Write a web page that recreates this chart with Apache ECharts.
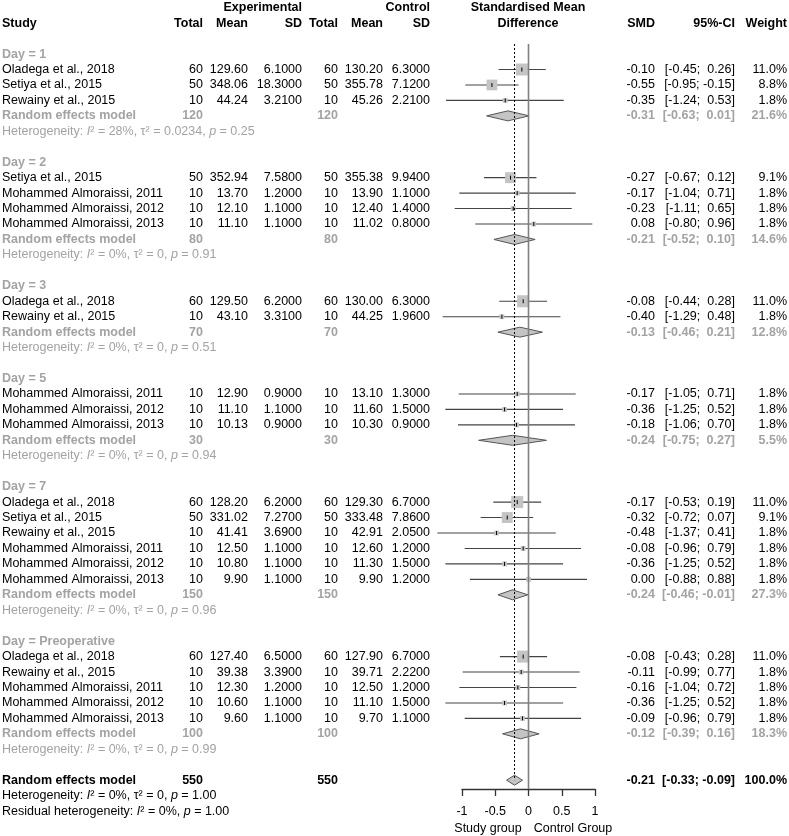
<!DOCTYPE html>
<html>
<head>
<meta charset="utf-8">
<script src="https://cdn.jsdelivr.net/npm/echarts@6/dist/echarts.min.js"></script>
<style>
  html, body { margin: 0; background: #fff; }
  #chart { width: 789px; height: 836px; }
</style>
</head>
<body>
<div id="chart"></div>
<script>
  // subgroups
  const groupNames = ['Day = 1', 'Day = 2', 'Day = 3', 'Day = 5', 'Day = 7', 'Day = Preoperative'];
  const groupExpN = [120, 80, 70, 30, 150, 100];
  const groupCtrlN = [120, 80, 70, 30, 150, 100];
  const groupSmd = [-0.31, -0.21, -0.13, -0.24, -0.24, -0.12];
  const groupLo = [-0.63, -0.52, -0.46, -0.75, -0.46, -0.39];
  const groupHi = [0.01, 0.10, 0.21, 0.27, -0.01, 0.16];
  const groupWeight = [21.6, 14.6, 12.8, 5.5, 27.3, 18.3];
  const groupI2 = ['28%', '0%', '0%', '0%', '0%', '0%'];
  const groupTau2 = ['0.0234', '0', '0', '0', '0', '0'];
  const groupP = ['0.25', '0.91', '0.51', '0.94', '0.96', '0.99'];

  // studies
  const studyGroup = [0, 0, 0, 1, 1, 1, 1, 2, 2, 3, 3, 3, 4, 4, 4, 4, 4, 4, 5, 5, 5, 5, 5];
  const studyNames = [
    'Oladega et al., 2018', 'Setiya et al., 2015', 'Rewainy et al., 2015',
    'Setiya et al., 2015', 'Mohammed Almoraissi, 2011', 'Mohammed Almoraissi, 2012', 'Mohammed Almoraissi, 2013',
    'Oladega et al., 2018', 'Rewainy et al., 2015',
    'Mohammed Almoraissi, 2011', 'Mohammed Almoraissi, 2012', 'Mohammed Almoraissi, 2013',
    'Oladega et al., 2018', 'Setiya et al., 2015', 'Rewainy et al., 2015',
    'Mohammed Almoraissi, 2011', 'Mohammed Almoraissi, 2012', 'Mohammed Almoraissi, 2013',
    'Oladega et al., 2018', 'Rewainy et al., 2015',
    'Mohammed Almoraissi, 2011', 'Mohammed Almoraissi, 2012', 'Mohammed Almoraissi, 2013'
  ];
  const expN = [60, 50, 10, 50, 10, 10, 10, 60, 10, 10, 10, 10, 60, 50, 10, 10, 10, 10, 60, 10, 10, 10, 10];
  const expMean = [129.60, 348.06, 44.24, 352.94, 13.70, 12.10, 11.10, 129.50, 43.10, 12.90, 11.10, 10.13,
    128.20, 331.02, 41.41, 12.50, 10.80, 9.90, 127.40, 39.38, 12.30, 10.60, 9.60];
  const expSD = [6.1, 18.3, 3.21, 7.58, 1.2, 1.1, 1.1, 6.2, 3.31, 0.9, 1.1, 0.9,
    6.2, 7.27, 3.69, 1.1, 1.1, 1.1, 6.5, 3.39, 1.2, 1.1, 1.1];
  const ctrlN = [60, 50, 10, 50, 10, 10, 10, 60, 10, 10, 10, 10, 60, 50, 10, 10, 10, 10, 60, 10, 10, 10, 10];
  const ctrlMean = [130.20, 355.78, 45.26, 355.38, 13.90, 12.40, 11.02, 130.00, 44.25, 13.10, 11.60, 10.30,
    129.30, 333.48, 42.91, 12.60, 11.30, 9.90, 127.90, 39.71, 12.50, 11.10, 9.70];
  const ctrlSD = [6.3, 7.12, 2.21, 9.94, 1.1, 1.4, 0.8, 6.3, 1.96, 1.3, 1.5, 0.9,
    6.7, 7.86, 2.05, 1.2, 1.5, 1.2, 6.7, 2.22, 1.2, 1.5, 1.1];
  const smd = [-0.10, -0.55, -0.35, -0.27, -0.17, -0.23, 0.08, -0.08, -0.40, -0.17, -0.36, -0.18,
    -0.17, -0.32, -0.48, -0.08, -0.36, 0.00, -0.08, -0.11, -0.16, -0.36, -0.09];
  const ciLo = [-0.45, -0.95, -1.24, -0.67, -1.04, -1.11, -0.80, -0.44, -1.29, -1.05, -1.25, -1.06,
    -0.53, -0.72, -1.37, -0.96, -1.25, -0.88, -0.43, -0.99, -1.04, -1.25, -0.96];
  const ciHi = [0.26, -0.15, 0.53, 0.12, 0.71, 0.65, 0.96, 0.28, 0.48, 0.71, 0.52, 0.70,
    0.19, 0.07, 0.41, 0.79, 0.52, 0.88, 0.28, 0.77, 0.72, 0.52, 0.79];
  const weight = [11.0, 8.8, 1.8, 9.1, 1.8, 1.8, 1.8, 11.0, 1.8, 1.8, 1.8, 1.8,
    11.0, 9.1, 1.8, 1.8, 1.8, 1.8, 11.0, 1.8, 1.8, 1.8, 1.8];

  // overall
  const overallN = [550, 550];
  const overallSmd = -0.21;
  const overallCi = [-0.33, -0.09];
  const overallWeight = 100.0;

  const FONT = 'Liberation Sans, Arial, sans-serif';
  const FS = 12.5;
  const GREY = '#a3a3a3';

  const pad = v => {
    const s = v.toFixed(2);
    return s.length < 5 ? ' ' + s : s;
  };
  const ciText = (lo, hi) => '[' + pad(lo) + '; ' + pad(hi) + ']';

  // column x positions (px)
  const COL = { study: 2, expN: 203, expMean: 248, expSD: 302, ctrlN: 338, ctrlMean: 383, ctrlSD: 430,
    smd: 655, ci: 735, w: 787 };

  const cells = [];
  function cell(x, row, text, opt) {
    opt = opt || {};
    cells.push({ x, row, text, align: opt.align || 'right', bold: !!opt.bold, color: opt.color || '#000', rich: !!opt.rich });
  }

  // headers
  cell(COL.expSD, -3, 'Experimental', { bold: true });
  cell(COL.ctrlSD, -3, 'Control', { bold: true });
  cell(528, -3, 'Standardised Mean', { bold: true, align: 'center' });
  cell(COL.study, -2, 'Study', { bold: true, align: 'left' });
  cell(COL.expN, -2, 'Total', { bold: true });
  cell(COL.expMean, -2, 'Mean', { bold: true });
  cell(COL.expSD, -2, 'SD', { bold: true });
  cell(COL.ctrlN, -2, 'Total', { bold: true });
  cell(COL.ctrlMean, -2, 'Mean', { bold: true });
  cell(COL.ctrlSD, -2, 'SD', { bold: true });
  cell(528, -2, 'Difference', { bold: true, align: 'center' });
  cell(COL.smd, -2, 'SMD', { bold: true });
  cell(COL.ci, -2, '95%-CI', { bold: true });
  cell(COL.w, -2, 'Weight', { bold: true });

  const studyData = [];
  const diamondData = [];
  let row = 0;
  groupNames.forEach((g, gi) => {
    cell(COL.study, row, g, { bold: true, align: 'left', color: GREY });
    row++;
    studyGroup.forEach((sg, i) => {
      if (sg !== gi) return;
      cell(COL.study, row, studyNames[i], { align: 'left' });
      cell(COL.expN, row, String(expN[i]));
      cell(COL.expMean, row, expMean[i].toFixed(2));
      cell(COL.expSD, row, expSD[i].toFixed(4));
      cell(COL.ctrlN, row, String(ctrlN[i]));
      cell(COL.ctrlMean, row, ctrlMean[i].toFixed(2));
      cell(COL.ctrlSD, row, ctrlSD[i].toFixed(4));
      cell(COL.smd, row, smd[i].toFixed(2));
      cell(COL.ci, row, ciText(ciLo[i], ciHi[i]));
      cell(COL.w, row, weight[i].toFixed(1) + '%');
      studyData.push([smd[i], row, ciLo[i], ciHi[i], weight[i]]);
      row++;
    });
    cell(COL.study, row, 'Random effects model', { bold: true, align: 'left', color: GREY });
    cell(COL.expN, row, String(groupExpN[gi]), { bold: true, color: GREY });
    cell(COL.ctrlN, row, String(groupCtrlN[gi]), { bold: true, color: GREY });
    cell(COL.smd, row, groupSmd[gi].toFixed(2), { bold: true, color: GREY });
    cell(COL.ci, row, ciText(groupLo[gi], groupHi[gi]), { bold: true, color: GREY });
    cell(COL.w, row, groupWeight[gi].toFixed(1) + '%', { bold: true, color: GREY });
    diamondData.push([groupSmd[gi], row, groupLo[gi], groupHi[gi]]);
    row++;
    cell(COL.study, row, 'Heterogeneity: {it|I}\u00b2 = ' + groupI2[gi] + ', \u03c4\u00b2 = ' + groupTau2[gi] +
      ', {it|p} = ' + groupP[gi], { align: 'left', color: GREY, rich: true });
    row += 2;
  });
  const overallRow = row;
  cell(COL.study, overallRow, 'Random effects model', { bold: true, align: 'left' });
  cell(COL.expN, overallRow, String(overallN[0]), { bold: true });
  cell(COL.ctrlN, overallRow, String(overallN[1]), { bold: true });
  cell(COL.smd, overallRow, overallSmd.toFixed(2), { bold: true });
  cell(COL.ci, overallRow, ciText(overallCi[0], overallCi[1]), { bold: true });
  cell(COL.w, overallRow, overallWeight.toFixed(1) + '%', { bold: true });
  diamondData.push([overallSmd, overallRow, overallCi[0], overallCi[1]]);
  cell(COL.study, overallRow + 1, 'Heterogeneity: {it|I}\u00b2 = 0%, \u03c4\u00b2 = 0, {it|p} = 1.00', { align: 'left', rich: true });
  cell(COL.study, overallRow + 2, 'Residual heterogeneity: {it|I}\u00b2 = 0%, {it|p} = 1.00', { align: 'left', rich: true });
  cell(488, overallRow + 3.1, 'Study group', { align: 'center' });
  cell(573, overallRow + 3.1, 'Control Group', { align: 'center' });

  const Y_MIN = -3.5, Y_MAX = 47.57;
  const chart = echarts.init(document.getElementById('chart'));

  chart.setOption({
    animation: false,
    grid: [
      { left: 0, right: 0, top: 0, bottom: 47, outerBoundsMode: 'none', containLabel: false },
      { left: 462, right: 194, top: 0, bottom: 47, outerBoundsMode: 'none', containLabel: false }
    ],
    xAxis: [
      { gridIndex: 0, type: 'value', min: 0, max: 789, show: false },
      {
        gridIndex: 1, type: 'value', position: 'bottom', min: -1, max: 1, interval: 0.5,
        axisLine: { onZero: false, lineStyle: { color: '#333', width: 1.3 } },
        axisTick: { length: 7, lineStyle: { color: '#333', width: 1.3 } },
        axisLabel: { margin: 16, color: '#000', fontSize: FS, fontFamily: FONT, formatter: v => String(v) },
        splitLine: { show: false }
      }
    ],
    yAxis: [
      { gridIndex: 0, type: 'value', inverse: true, min: Y_MIN, max: Y_MAX, show: false },
      { gridIndex: 1, type: 'value', inverse: true, min: Y_MIN, max: Y_MAX, show: false }
    ],
    series: [
      {
        type: 'line', xAxisIndex: 1, yAxisIndex: 1, symbol: 'none', silent: true,
        lineStyle: { color: '#808080', width: 1.6 },
        data: [[0, -0.65], [0, Y_MAX]]
      },
      {
        type: 'line', xAxisIndex: 1, yAxisIndex: 1, symbol: 'none', silent: true,
        lineStyle: { color: '#000', width: 1, type: [2, 2] },
        data: [[overallSmd, -0.65], [overallSmd, overallRow]]
      },
      {
        type: 'custom', xAxisIndex: 1, yAxisIndex: 1, clip: false, silent: true,
        data: studyData,
        renderItem(params, api) {
          const y = api.coord([0, api.value(1)])[1];
          const xm = api.coord([api.value(0), 0])[0];
          const xl = api.coord([api.value(2), 0])[0];
          const xh = api.coord([api.value(3), 0])[0];
          const s = 3.62 * Math.sqrt(api.value(4));
          return {
            type: 'group',
            children: [
              { type: 'line', shape: { x1: xl, y1: y, x2: xh, y2: y }, style: { stroke: '#444', lineWidth: 1.1 } },
              { type: 'rect', shape: { x: xm - s / 2, y: y - s / 2, width: s, height: s }, style: { fill: '#c4c4c4' } },
              { type: 'line', shape: { x1: xm, y1: y - 2, x2: xm, y2: y + 2 }, style: { stroke: '#000', lineWidth: 1 } }
            ]
          };
        }
      },
      {
        type: 'custom', xAxisIndex: 1, yAxisIndex: 1, clip: false, silent: true,
        data: diamondData,
        renderItem(params, api) {
          const y = api.coord([0, api.value(1)])[1];
          const xm = api.coord([api.value(0), 0])[0];
          const xl = api.coord([api.value(2), 0])[0];
          const xh = api.coord([api.value(3), 0])[0];
          return {
            type: 'polygon',
            shape: { points: [[xl, y], [xm, y - 5], [xh, y], [xm, y + 5]] },
            style: { fill: '#c4c4c4', stroke: '#555', lineWidth: 1 }
          };
        }
      },
      {
        type: 'custom', xAxisIndex: 0, yAxisIndex: 0, clip: false, silent: true,
        data: cells.map((c, i) => [c.x, c.row, i]),
        renderItem(params, api) {
          const c = cells[api.value(2)];
          const p = api.coord([api.value(0), api.value(1)]);
          const style = {
            text: c.text, x: 0, y: 0,
            textAlign: c.align, textVerticalAlign: 'middle',
            fontSize: FS, fontFamily: FONT, fontWeight: c.bold ? 'bold' : 'normal',
            fill: c.color
          };
          if (c.rich) {
            style.rich = { it: { fontStyle: 'italic', fontSize: FS, fontFamily: FONT, fill: c.color } };
          }
          return { type: 'text', x: p[0], y: p[1], style };
        }
      }
    ]
  });
</script>
</body>
</html>
